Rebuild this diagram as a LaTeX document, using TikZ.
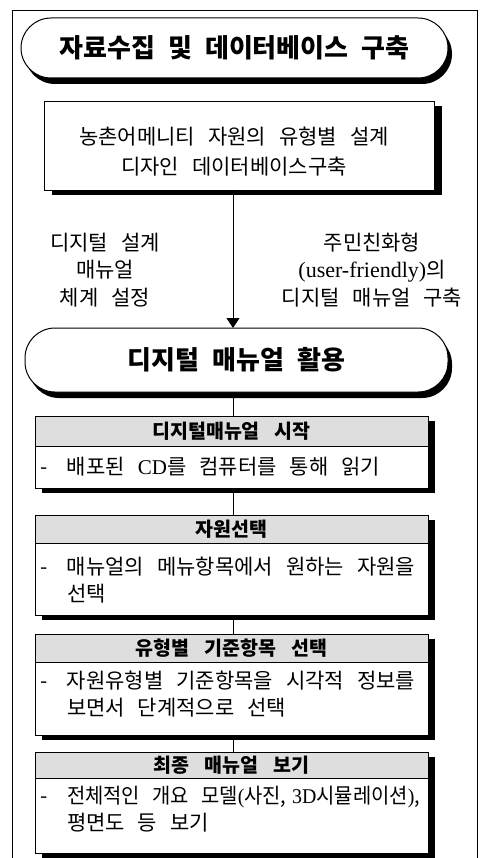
\documentclass[tikz,border=0pt]{standalone}
\usepackage{fontspec}
\usepackage{graphicx}
\setmainfont{Noto Sans CJK KR}
\newfontfamily\lat{Liberation Serif}
\usetikzlibrary{arrows.meta,shadows}
\newcommand{\dashlead}{\makebox[28pt][l]{\hspace{1pt}-}}
\newcommand{\pillfont}{\fontsize{26}{28}\selectfont\bfseries\spaceskip 13pt\relax}
\newcommand{\headfont}{\fontsize{19.5}{20}\selectfont\bfseries\spaceskip 15pt\relax}
\newcommand{\bodyfont}{\fontsize{21}{27}\selectfont\spaceskip 13pt\relax}
\newcommand{\lblfont}{\fontsize{21}{27.5}\selectfont\spaceskip 13pt\relax}
\newcommand{\boxfont}{\fontsize{21}{30}\selectfont\spaceskip 13pt\relax}
\begin{document}
\begin{tikzpicture}[x=1pt,y=-1pt,
  every node/.style={inner sep=0pt,outer sep=0pt},
  pill/.style={draw,line width=1pt,fill=white,rounded corners=30pt,font=\pillfont,
    drop shadow={shadow xshift=4pt,shadow yshift=-6pt,fill=black,opacity=1}},
  plainbox/.style={draw,line width=0.9pt,fill=white,
    drop shadow={shadow xshift=8pt,shadow yshift=-5pt,fill=black,opacity=1}},
  headbox/.style={draw,line width=0.9pt,fill=black!13,minimum width=393pt,font=\headfont,
    drop shadow={shadow xshift=7pt,shadow yshift=-5pt,fill=black,opacity=1}},
  bodybox/.style={draw,line width=0.9pt,fill=white,minimum width=393pt,
    drop shadow={shadow xshift=7pt,shadow yshift=-5pt,fill=black,opacity=1}},
  bodytext/.style={anchor=west,align=left,font=\bodyfont},
  lbl/.style={align=center,font=\lblfont},
  conn/.style={draw,line width=0.9pt}]
\useasboundingbox (0,0) rectangle (480,858);
\draw[line width=0.8pt] (12,10) rectangle (477,880);
\coordinate (spine) at (233,0);

\node[pill,minimum width=427pt,minimum height=60pt] (p1) at (234.5,48) {자료수집 및 데이터베이스 구축};
\node[plainbox,minimum width=390pt,minimum height=89pt] (b2) at (239,145.5) {};
\node[lbl,font=\boxfont] (b2t) at (234,152) {농촌어메니티 자원의 유형별 설계\\디자인 데이터베이스구축};

\node[lbl] (ll) at (105,270) {디지털 설계\\매뉴얼\\체계 설정};
\node[lbl] (rl) at (372,270) {주민친화형\\{\lat\fontsize{22}{27.5}\selectfont (user-friendly)}의\\디지털 매뉴얼 구축};

\node[pill,minimum width=423pt,minimum height=64pt] (p2) at (236.5,360) {디지털 매뉴얼 활용};

\node[headbox,minimum height=30pt] (h3) at (231.5,431) {디지털매뉴얼 시작};
\node[bodybox,minimum height=42pt] (s3) at (231.5,467) {};
\node[bodytext] (t3) at (39,467) {\dashlead 배포된 {\lat CD}를 컴퓨터를 통해 읽기};

\node[headbox,minimum height=28pt] (h4) at (231.5,529) {자원선택};
\node[bodybox,minimum height=72pt] (s4) at (231.5,579) {};
\node[bodytext] (t4) at (39,580) {\dashlead 매뉴얼의 메뉴항목에서 원하는 자원을\\\hspace*{28pt}선택};

\node[headbox,minimum height=28pt] (h5) at (231.5,648) {유형별 기준항목 선택};
\node[bodybox,minimum height=73pt] (s5) at (231.5,698.5) {};
\node[bodytext] (t5) at (39,694) {\dashlead 자원유형별 기준항목을 시각적 정보를\\\hspace*{28pt}보면서 단계적으로 선택};

\node[headbox,minimum height=26pt] (h6) at (231.5,765) {최종 매뉴얼 보기};
\node[bodybox,minimum height=75pt] (s6) at (231.5,815.5) {};
\node[bodytext] (t6) at (39,809) {\dashlead\resizebox{353pt}{\height}{전체적인 개요 모델{\lat (}사진,\hspace{6pt}{\lat 3D}시뮬레이션{\lat )},}\\\hspace*{28pt}평면도 등 보기};

\draw[conn,-{Triangle[width=13pt,length=10pt]}] (b2.south -| spine) -- (p2.north -| spine);
\draw[conn] (p2.south -| spine) -- (h3.north -| spine);
\draw[conn] (s3.south -| spine) -- (h4.north -| spine);
\draw[conn] (s4.south -| spine) -- (h5.north -| spine);
\draw[conn] (s5.south -| spine) -- (h6.north -| spine);
\end{tikzpicture}
\end{document}
